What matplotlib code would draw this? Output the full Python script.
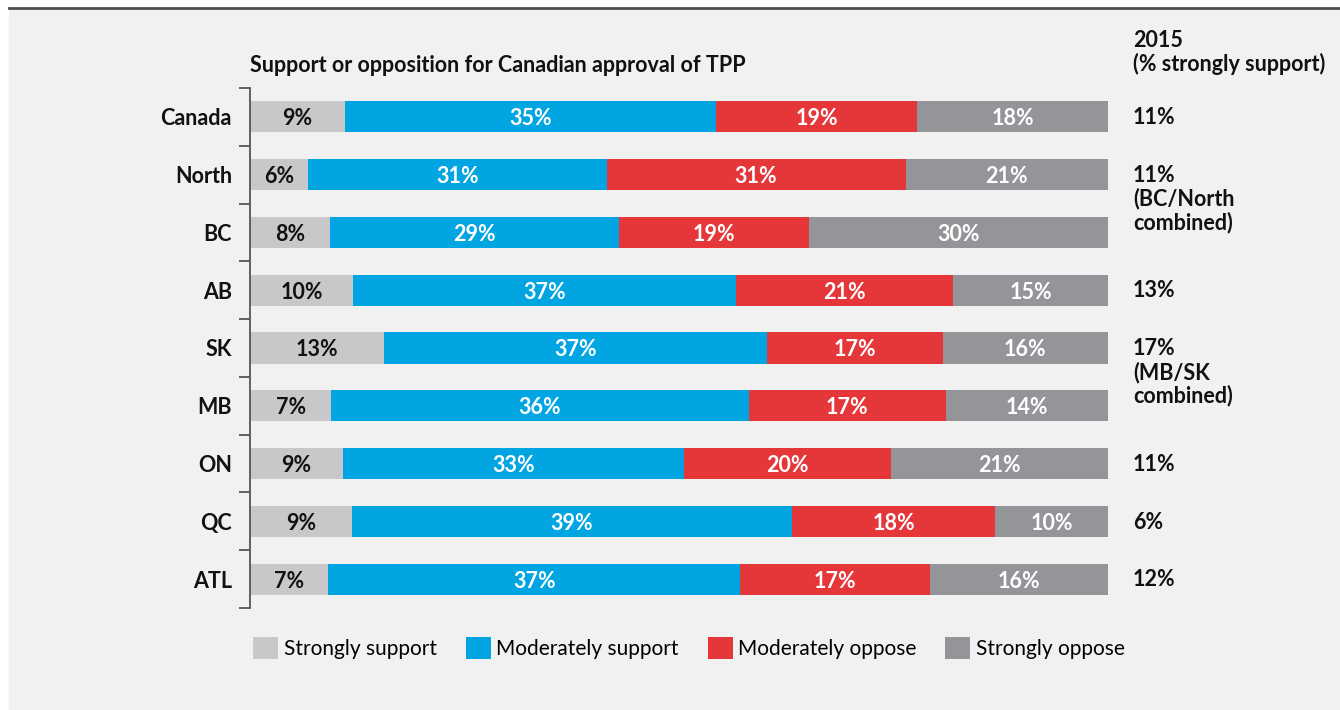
"""
Support or opposition for Canadian approval of TPP, by region
Stacked horizontal bars, each row scaled to the full width
"""

import numpy as np
import matplotlib.pyplot as plt
from matplotlib.patches import Rectangle, Patch
from matplotlib.lines import Line2D

plt.rcParams['font.family'] = ['Lato', 'DejaVu Sans']

categories = ["Canada", "North", "BC", "AB", "SK", "MB", "ON", "QC", "ATL"]
strongly_support = [9, 6, 8, 10, 13, 7, 9, 9, 7]
moderately_support = [35, 31, 29, 37, 37, 36, 33, 39, 37]
moderately_oppose = [19, 31, 19, 21, 17, 17, 20, 18, 17]
strongly_oppose = [18, 21, 30, 15, 16, 14, 21, 10, 16]
series_names = ["Strongly support", "Moderately support",
                "Moderately oppose", "Strongly oppose"]
support_2015 = ["11%", "11%\n(BC/North\ncombined)", "", "13%",
                "17%\n(MB/SK\ncombined)", "", "11%", "6%", "12%"]

colors = ['#c8c8ca', '#00a5e2', '#e5363a', '#949599']
label_colors = ['#111111', 'white', 'white', 'white']
FS = 15.5

W, H = 1340, 710
fig = plt.figure(figsize=(W / 100, H / 100), dpi=100)
fig.patch.set_facecolor('white')

# panel de fondo gris con línea superior
fig.patches.append(Rectangle((9 / W, 0), 1 - 9 / W, 1 - 9 / H,
                             transform=fig.transFigure, color='#f1f1f1', zorder=-10))
fig.lines.append(Line2D([9 / W, 1], [1 - 8 / H, 1 - 8 / H],
                        transform=fig.transFigure, color='#4d4d4d', lw=2, zorder=-5))

ax = fig.add_axes([250 / W, 1 - 608 / H, (1108 - 250) / W, (608 - 88) / H])
ax.set_facecolor('none')

data = np.array([strongly_support, moderately_support,
                 moderately_oppose, strongly_oppose], dtype=float)
shares = data / data.sum(axis=0)
y = np.arange(len(categories))

left = np.zeros(len(categories))
for k in range(4):
    ax.barh(y, shares[k], left=left, height=0.54, color=colors[k], label=series_names[k])
    for i in range(len(categories)):
        ax.text(left[i] + shares[k, i] / 2, y[i], f"{int(data[k, i])}%",
                ha='center', va='center_baseline', fontsize=FS, fontweight='bold',
                color=label_colors[k])
    left += shares[k]

ax.set_xlim(0, 1)
ax.set_ylim(len(categories) - 0.5, -0.5)
ax.set_xticks([])
ax.set_yticks(y)
ax.set_yticklabels(categories, fontsize=FS, fontweight='bold', color='#111111')
ax.set_yticks(np.arange(-0.5, len(categories)), minor=True)
ax.tick_params(axis='y', which='major', length=0, pad=13)
ax.tick_params(axis='y', which='minor', length=8, width=1.3, color='#555555')
for s in ['top', 'right', 'bottom']:
    ax.spines[s].set_visible(False)
ax.spines['left'].set_color('#555555')
ax.spines['left'].set_linewidth(1.3)

# columna derecha: 2015
x_right = (1133 - 250) / (1108 - 250)
for i, txt in enumerate(support_2015):
    if txt:
        ax.text(x_right, y[i] - 0.17, txt, ha='left', va='top', fontsize=FS,
                fontweight='bold', color='#111111', linespacing=1.12,
                clip_on=False)

fig.text(1133 / W, 1 - 30 / H, "2015\n(% strongly support)", ha='left', va='top',
         fontsize=FS, fontweight='bold', color='#111111', linespacing=1.1)
fig.text(250 / W, 1 - 66 / H, "Support or opposition for Canadian approval of TPP",
         ha='left', va='center', fontsize=FS, fontweight='bold', color='#111111')

handles = [Patch(facecolor=c, edgecolor='none') for c in colors]
fig.legend(handles, series_names, loc='center left',
           bbox_to_anchor=(245 / W, 1 - 648 / H), ncol=4, frameon=False,
           fontsize=15, handlelength=1.2, handleheight=1.2,
           handletextpad=0.25, columnspacing=1.4, borderaxespad=0)

fig.savefig('out.png', dpi=100)
